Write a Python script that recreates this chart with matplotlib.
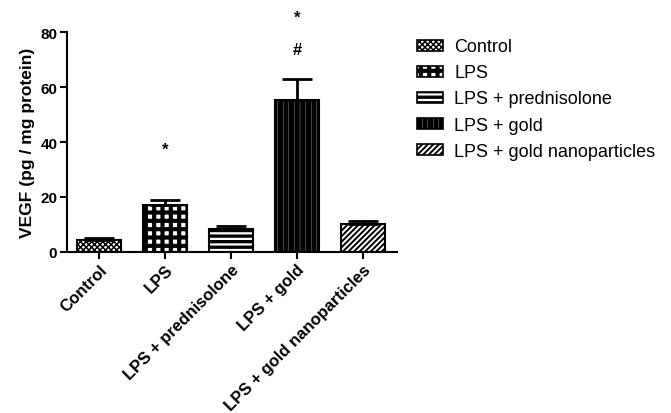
import matplotlib
matplotlib.use("Agg")
import matplotlib.pyplot as plt
from matplotlib.patches import Patch

plt.rcParams['font.family'] = ['Liberation Sans', 'DejaVu Sans']

# Data
groups = ["Control", "LPS", "LPS + prednisolone", "LPS + gold", "LPS + gold nanoparticles"]
vegf = [4.4, 17.1, 8.4, 55.3, 10.2]
sem = [0.7, 1.8, 1.1, 7.7, 1.1]

# significance marks: group index, symbol, height
mark_x = [1, 3, 3]
mark_txt = ["*", "*", "#"]
mark_y = [37.5, 85.5, 73.5]

hatches = ["xxxxxx", "++", "---", "|||", "//////"]
hatch_lw = [1.1, 3.0, 2.4, 3.8, 1.4]

fig = plt.figure(figsize=(6.71, 4.14), dpi=100)
ax = fig.add_axes([0.0999, 0.389, 0.492, 0.531])

x = list(range(len(groups)))
bars = ax.bar(x, vegf, width=0.67, color="white", edgecolor="black",
              linewidth=1.5, zorder=2)
for b, h, lw in zip(bars, hatches, hatch_lw):
    b.set_hatch(h)
    if hasattr(b, "set_hatch_linewidth"):
        b.set_hatch_linewidth(lw)

ax.errorbar(x, vegf, yerr=[[0] * len(sem), sem], fmt="none", ecolor="black",
            elinewidth=2, capsize=11, capthick=2, zorder=3)

for mx, mt, my in zip(mark_x, mark_txt, mark_y):
    ax.text(mx, my, mt, ha="center", va="center", fontsize=12,
            fontweight="bold", clip_on=False)

ax.set_xlim(-0.485, 4.52)
ax.set_ylim(0, 80)
ax.set_yticks([0, 20, 40, 60, 80])
ax.set_xticks(x)
ax.set_xticklabels(groups, rotation=45, ha="right", rotation_mode="anchor",
                   fontsize=12, fontweight="bold")
for lbl in ax.get_yticklabels():
    lbl.set_fontweight("bold")
    lbl.set_fontsize(11)
ax.set_ylabel("VEGF (pg / mg protein)", fontsize=12.5, fontweight="bold", labelpad=4)
ax.spines["top"].set_visible(False)
ax.spines["right"].set_visible(False)
ax.spines["left"].set_linewidth(1.5)
ax.spines["bottom"].set_linewidth(1.5)
ax.tick_params(width=1.5, length=5, pad=2)

handles = [Patch(facecolor="white", edgecolor="black", hatch=h, linewidth=1.2, label=g)
           for g, h in zip(groups, hatches)]
leg = fig.legend(handles=handles, loc="upper left", bbox_to_anchor=(0.597, 0.944),
                 frameon=False, fontsize=13, handlelength=1.45, handleheight=0.56,
                 labelspacing=0.5, handletextpad=0.63)
for p, lw in zip(leg.legend_handles, hatch_lw):
    if hasattr(p, "set_hatch_linewidth"):
        p.set_hatch_linewidth(lw)

fig.savefig("out.png", dpi=100)
